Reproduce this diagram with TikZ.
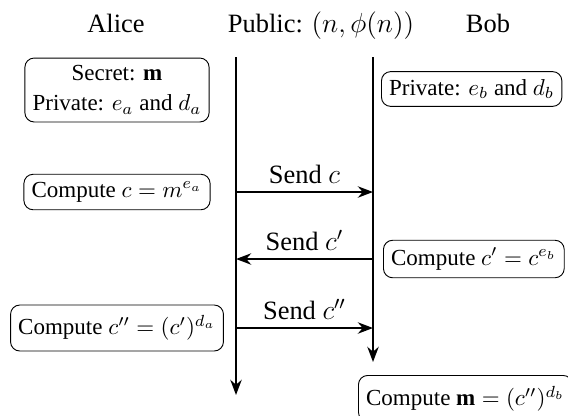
\documentclass[tikz,border=0pt]{standalone}
\usepackage{amsmath,amssymb}
\usepackage{fontspec}
\setmainfont{Liberation Serif}
\usetikzlibrary{arrows.meta}

\begin{document}
\begin{tikzpicture}[x=0.4348pt, y=-0.4348pt, >=Stealth,
        box/.style={draw, rounded corners=4pt, align=center, font=\fontsize{10}{13}\selectfont},
        tallbox/.style={box, inner ysep=4.5pt},
        big/.style={font=\fontsize{11.5}{14}\selectfont}]
    \useasboundingbox (0,0) rectangle (568,415);
    \node (alice) [big, anchor=base] at (116,32) {Alice};
    \node (pub) [big, anchor=base] at (321,32) {Public: $(n,\phi(n))$};
    \node (bob) [big, anchor=base] at (488,32) {Bob};
    % lifelines
    \coordinate (a0) at (236,57);
    \coordinate (a9) at (236,395);
    \coordinate (b0) at (373,57);
    \coordinate (b9) at (373,362);
    \draw [thick, ->] (a0) -- (a9);
    \draw [thick, ->] (b0) -- (b9);
    % message points
    \coordinate (a1) at (236,192);
    \coordinate (b1) at (373,192);
    \coordinate (a2) at (236,259);
    \coordinate (b2) at (373,259);
    \coordinate (a3) at (236,328);
    \coordinate (b3) at (373,328);
    \node (keya) [box] at (117,90) {Secret: $\mathbf{m}$\\ Private: $e_a$ and $d_a$};
    \node (keyb) [box, anchor=west] at (381,89) {Private: $e_b$ and $d_b$};
    \node (enca) [box] at (117,192) {Compute $c = m^{e_a}$};
    \draw [thick, ->] (a1) -- node [big, above] (send1) {Send $c$} (b1);
    \node (encb) [box, anchor=west] at (383,259) {Compute $c' = c^{e_b}$};
    \draw [thick, ->] (b2) -- node [big, above] (send2) {Send $c'$} (a2);
    \node (deca) [tallbox] at (117,328) {Compute $c'' = (c')^{d_a}$};
    \draw [thick, ->] (a3) -- node [big, above] (send3) {Send $c''$} (b3);
    \node (decb) [tallbox, anchor=north west] at (358,375) {Compute $\mathbf{m} = (c'')^{d_b}$};
\end{tikzpicture}
\end{document}
